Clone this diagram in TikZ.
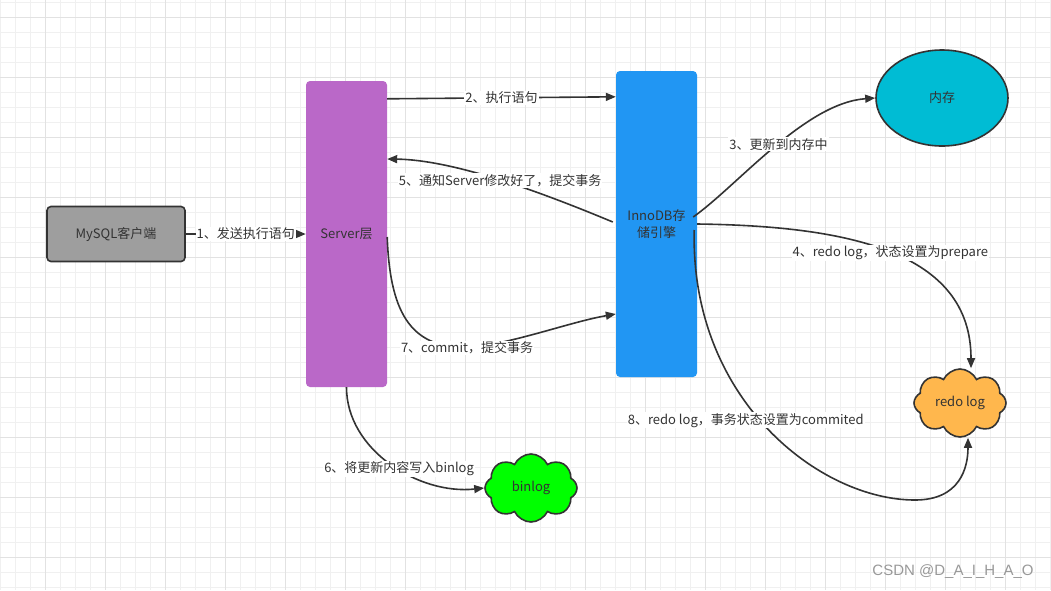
\documentclass[tikz,border=0pt]{standalone}
\usepackage{fontspec}
\setmainfont{Noto Sans CJK SC}
\newfontfamily\wmfont{Liberation Sans}
\usetikzlibrary{arrows.meta,positioning,shapes.symbols,shapes.geometric}
\definecolor{lineDark}{HTML}{333333}
\definecolor{gridMinor}{HTML}{F0F0F0}
\definecolor{gridMajor}{HTML}{E2E2E2}
\definecolor{clientGray}{HTML}{9E9E9E}
\definecolor{serverPurple}{HTML}{BA68C8}
\definecolor{engineBlue}{HTML}{2196F3}
\definecolor{memCyan}{HTML}{00BCD4}
\definecolor{redoOrange}{HTML}{FFB74D}
\definecolor{binGreen}{HTML}{00FF00}

\begin{document}
\begin{tikzpicture}[x=1pt,y=-1pt,
  blk/.style={rounded corners=4pt,minimum width=81pt,minimum height=306pt,align=center,text=lineDark,font=\fontsize{13}{16.5}\selectfont,inner sep=0pt},
  cld/.style={cloud,cloud puffs=8,cloud puff arc=130,cloud ignores aspect,draw=lineDark,line width=1.6pt,minimum width=92pt,minimum height=68pt,text=lineDark,font=\fontsize{13}{15}\selectfont},
  arr/.style={-{Triangle[length=10pt,width=8pt]},line width=1.6pt,lineDark},
  lbl/.style={fill=white,inner sep=1pt,text=lineDark,font=\fontsize{13}{15}\selectfont}
]
\useasboundingbox[fill=white] (0,0) rectangle (1051,590);
% grid
\foreach \gx in {0,15,...,1050} \draw[gridMinor,line width=1pt] (\gx,0) -- (\gx,590);
\foreach \gy in {2,17,...,590} \draw[gridMinor,line width=1pt] (0,\gy) -- (1051,\gy);
\foreach \gx in {45,105,...,1050} \draw[gridMajor,line width=1pt] (\gx,0) -- (\gx,590);
\foreach \gy in {17,77,...,590} \draw[gridMajor,line width=1pt] (0,\gy) -- (1051,\gy);

\node[blk,fill=serverPurple] (server) at (346.5,234) {Server层};
\node[blk,fill=clientGray,draw=lineDark,line width=1.6pt,minimum width=138pt,minimum height=55pt,left=120pt of server] (client) {MySQL客户端};
\node[blk,fill=engineBlue] (engine) at (656.5,224) {InnoDB存\\储引擎};
\node[ellipse,draw=lineDark,line width=1.6pt,fill=memCyan,minimum width=132pt,minimum height=96pt,text=lineDark,font=\fontsize{13}{15}\selectfont] (mem) at (942,98) {内存};
\node[cld,fill=redoOrange] (redo) at (960,403) {redo log};
\node[cld,fill=binGreen] (binlog) at (531,488) {binlog};

\draw[arr] (client) -- node[lbl]{1、发送执行语句} (server);
\draw[arr] ([yshift=-18pt]server.north east) -- node[lbl]{2、执行语句} ([yshift=-26pt]engine.north west);
\draw[arr] ([shift={(-4,-7)}]engine.east) .. controls +(45,-32) and +(-70,5) .. (mem.west) node[lbl,pos=.52]{3、更新到内存中};
\draw[arr] (engine.east) .. controls +(150,2) and +(0,-117) .. ([xshift=11pt]redo.north) node[lbl,pos=.5]{4、redo log，状态设置为prepare};
\draw[arr] ([shift={(-3,-2)}]engine.west) .. controls +(-53,-22) and +(73,1) .. ([yshift=75pt]server.east) node[lbl,pos=.53]{5、通知Server修改好了，提交事务};
\draw[arr] (server.south) .. controls +(0,63) and +(-65,7) .. (binlog.west) node[lbl,pos=.55]{6、将更新内容写入binlog};
\draw[arr] ([yshift=-3pt]server.east) .. controls +(3,83) and +(-52,-1) .. (467,348) node[lbl]{7、commit，提交事务} .. controls +(48,-5) and +(-46,8) .. ([yshift=-90pt]engine.west);
\draw[arr] ([shift={(-3,6)}]engine.east) .. controls +(-4,170) and +(-95,0) .. (915,500) node[lbl,pos=.47,xshift=-14pt]{8、redo log，事务状态设置为commited} .. controls +(45,0) and +(0,30) .. ([xshift=8pt]redo.south);

\node[text=black!40,font=\wmfont\fontsize{15}{17}\selectfont] (mark) at (953,572) {CSDN @D\_A\_I\_H\_A\_O};
\end{tikzpicture}
\end{document}
